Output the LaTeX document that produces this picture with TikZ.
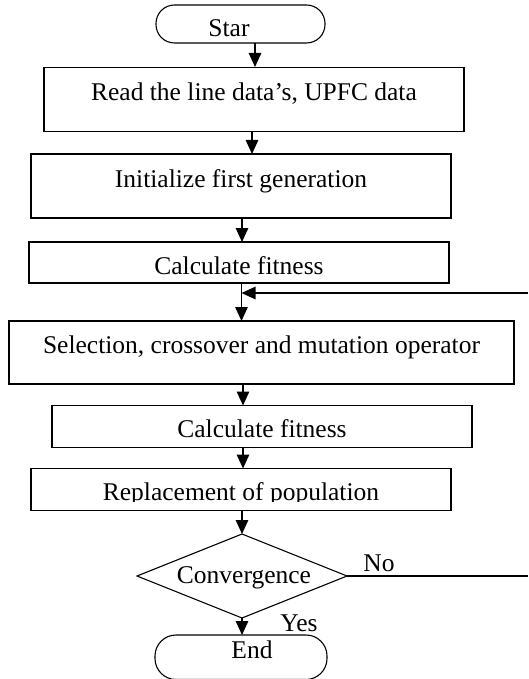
\documentclass[tikz,border=0pt]{standalone}
\usepackage{fontspec}
\setmainfont{Liberation Serif}
\usetikzlibrary{arrows.meta,shapes.geometric,calc}
\begin{document}
\begin{tikzpicture}[x=1pt,y=-1pt,
  every node/.style={inner sep=0pt,outer sep=0pt},
  box/.style={draw,line width=1.1pt,rectangle},
  txt/.style={anchor=base,font=\fontsize{25.5}{30}\selectfont},
  arr/.style={line width=1.3pt,-{Triangle[width=12.5pt,length=14pt]}},
  ln/.style={line width=1.3pt}]
\useasboundingbox (0,0) rectangle (528,679);
% start terminator
\draw[line width=1.1pt,rounded corners=18.5pt] (156,5) rectangle (325,43);
\coordinate (stS) at (255,43);
\node[txt] (tst) at (229,37) {Star};
% boxes
\node[box,minimum width=420pt,minimum height=64pt] (b1) at (254,99.5) {};
\node[txt] (t1) at (254,101) {Read the line data’s, UPFC data};
\node[box,minimum width=420pt,minimum height=64pt] (b2) at (241,186) {};
\node[txt] (t2) at (241,187) {Initialize first generation};
\node[box,minimum width=420pt,minimum height=41pt] (b3) at (239,262.5) {};
\node[txt] (t3) at (239,274) {Calculate fitness};
\node[box,minimum width=505pt,minimum height=63pt] (b4) at (261.5,352.5) {};
\node[txt] (t4) at (261.5,353) {Selection, crossover and mutation operator};
\node[box,minimum width=420pt,minimum height=42pt] (b5) at (262,426.5) {};
\node[txt] (t5) at (262,437) {Calculate fitness};
\node[box,minimum width=420pt,minimum height=42pt] (b6) at (241,489.5) {};
\begin{scope}
\clip (b6.north west) rectangle ([yshift=9pt]b6.south east);
\node[txt] (t6) at (241,500) {Replacement of population};
\end{scope}
% decision
\node[draw,line width=1.1pt,diamond,minimum width=210pt,minimum height=84pt] (d) at (242,576) {};
\node[txt] (td) at (244,583) {Convergence};
\node[txt] (tno) at (379,571) {No};
\node[txt] (tyes) at (299,631) {Yes};
% end terminator
\draw[line width=1.1pt,rounded corners=21pt] (155,635) rectangle (327,679.5);
\coordinate (enN) at (242,635);
\node[txt] (ten) at (252,658) {End};
% arrows
\draw[arr] (stS) -- (255,67);
\draw[arr] ([xshift=-2pt]b1.south) -- ([xshift=11pt]b2.north);
\draw[arr] ([xshift=1pt]b2.south) -- ([xshift=3pt]b3.north);
\coordinate (j) at (241.5,293);
\coordinate (r1) at (528,293);
\coordinate (r2) at (528,576);
\draw[ln] ([xshift=2.5pt]b3.south) -- (j);
\draw[arr] (j) -- ([xshift=-20pt]b4.north);
\draw[arr] (r1) -- (j);
\draw[arr] ([xshift=-18.5pt]b4.south) -- ([xshift=-19pt]b5.north);
\draw[arr] ([xshift=-19pt]b5.south) -- ([xshift=2pt]b6.north);
\draw[arr] ([xshift=1pt]b6.south) -- (d.north);
\draw[ln] (d.east) -- (d.east -| r2);
\draw[arr] (d.south) -- (enN);
\end{tikzpicture}
\end{document}
